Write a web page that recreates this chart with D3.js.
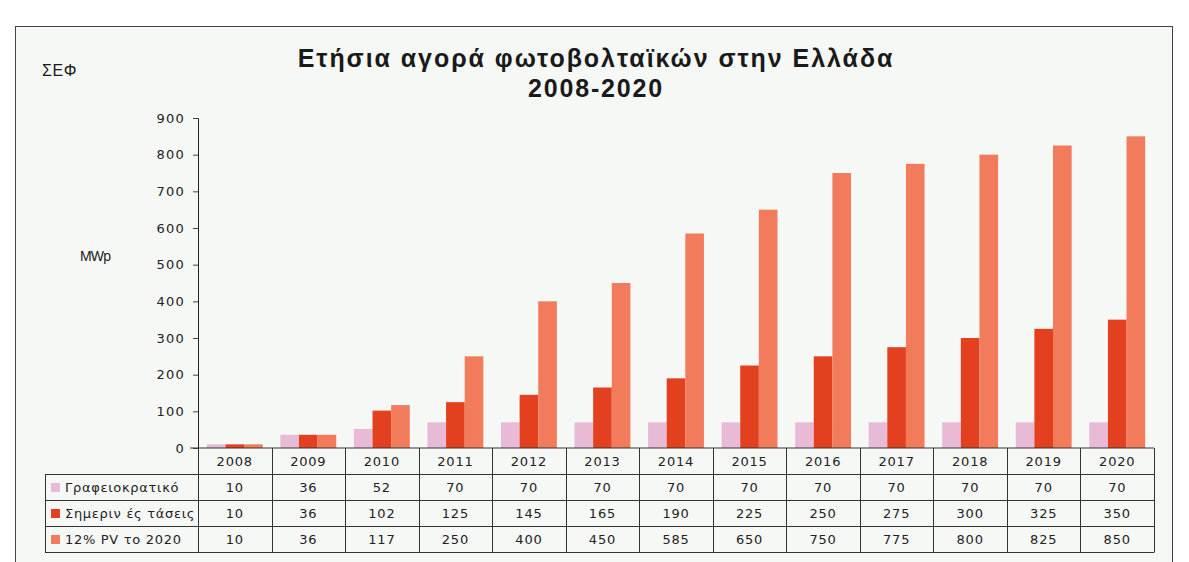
<!DOCTYPE html>
<html>
<head>
<meta charset="utf-8">
<script src="https://cdn.jsdelivr.net/npm/d3@7"></script>
<style>
  html, body { margin: 0; padding: 0; background: #ffffff; }
  svg { display: block; font-family: "DejaVu Sans", "Liberation Sans", Arial, sans-serif; }
</style>
</head>
<body>
<svg id="chart" width="1189" height="562"></svg>
<script>
// Annual PV market in Greece, 2008-2020 (MWp), three scenarios
const years = ["2008","2009","2010","2011","2012","2013","2014","2015","2016","2017","2018","2019","2020"];
const seriesNames = ["Γραφειοκρατικό", "Σημεριν ές τάσεις", "12% PV το 2020"];
const bureaucratic = [10, 36, 52, 70, 70, 70, 70, 70, 70, 70, 70, 70, 70];
const currentTrends = [10, 36, 102, 125, 145, 165, 190, 225, 250, 275, 300, 325, 350];
const pv12 = [10, 36, 117, 250, 400, 450, 585, 650, 750, 775, 800, 825, 850];
const yTicks = [0, 100, 200, 300, 400, 500, 600, 700, 800, 900];
const colors = ["#e8bad6", "#e2401f", "#f27b5b"];

const seriesValues = [bureaucratic, currentTrends, pv12];

const svg = d3.select("#chart");
const bodyFont = "'DejaVu Sans', 'Liberation Sans', sans-serif";
const titleFont = "'Liberation Sans', Arial, sans-serif";

// Panel frame
svg.append("rect")
  .attr("x", 15.5).attr("y", 26.5)
  .attr("width", 1157).attr("height", 545)
  .attr("fill", "#f6f8f6")
  .attr("stroke", "#444").attr("stroke-width", 1);

// Plot geometry
const plotLeft = 198, plotRight = 1154, plotTop = 118, plotBottom = 448;

const x = d3.scaleBand().domain(years).range([plotLeft, plotRight]).paddingInner(0.24).paddingOuter(0.12);
const xGroup = d3.scaleBand().domain(d3.range(3)).range([0, x.bandwidth()]);
const y = d3.scaleLinear().domain([0, 900]).range([plotBottom, plotTop]);

// Titles
svg.append("text").attr("x", 596).attr("y", 67).attr("text-anchor", "middle")
  .attr("font-family", titleFont)
  .attr("font-size", 25).attr("font-weight", "bold").attr("fill", "#1a1a1a")
  .attr("letter-spacing", 1.95)
  .text("Ετήσια αγορά φωτοβολταϊκών στην Ελλάδα");
svg.append("text").attr("x", 596).attr("y", 97).attr("text-anchor", "middle")
  .attr("font-family", titleFont)
  .attr("font-size", 25).attr("font-weight", "bold").attr("fill", "#1a1a1a")
  .attr("letter-spacing", 1.8)
  .text("2008-2020");
svg.append("text").attr("x", 42).attr("y", 76)
  .attr("font-family", titleFont)
  .attr("font-size", 16).attr("letter-spacing", 0.6).attr("fill", "#1a1a1a").text("ΣΕΦ");
svg.append("text").attr("x", 80).attr("y", 261)
  .attr("font-family", titleFont)
  .attr("font-size", 14).attr("fill", "#1a1a1a").attr("letter-spacing", -0.8).text("MWp");

// Bars
const groups = svg.append("g").selectAll("g")
  .data(years).join("g")
  .attr("transform", d => `translate(${x(d)},0)`);

groups.selectAll("rect")
  .data((d, i) => seriesValues.map((vals, s) => ({ s, v: vals[i] })))
  .join("rect")
  .attr("x", d => xGroup(d.s))
  .attr("width", xGroup.bandwidth())
  .attr("y", d => y(d.v))
  .attr("height", d => y(0) - y(d.v))
  .attr("fill", d => colors[d.s]);

// Y axis
const yAxis = d3.axisLeft(y).tickValues(yTicks).tickSize(5).tickPadding(8).tickFormat(d3.format("d"));
const yg = svg.append("g").attr("transform", `translate(${plotLeft},0)`).call(yAxis);
yg.select(".domain").attr("stroke", "#222");
yg.selectAll(".tick line").attr("stroke", "#444");
yg.selectAll(".tick text").attr("font-size", 13).attr("fill", "#222")
  .attr("letter-spacing", 1.2)
  .attr("font-family", bodyFont);

// Data table below the axis
const rowH = 26;
const tableTop = plotBottom;
const labelLeft = 45;
const tableRight = plotRight;
const g = svg.append("g").attr("stroke", "#333").attr("stroke-width", 1);
const step = x.step();
const colEdge = i => plotLeft + i * step;

// horizontal lines
g.append("line").attr("x1", plotLeft - 8).attr("x2", tableRight).attr("y1", tableTop).attr("y2", tableTop);
for (let r = 1; r <= 4; r++) {
  const yy = tableTop + r * rowH + 0.5;
  g.append("line").attr("x1", labelLeft).attr("x2", tableRight).attr("y1", yy).attr("y2", yy);
}
// vertical lines
for (let c = 0; c <= years.length; c++) {
  const xx = Math.round(colEdge(c)) + 0.5;
  g.append("line").attr("x1", xx).attr("x2", xx).attr("y1", tableTop).attr("y2", tableTop + 4 * rowH + 0.5);
}
g.append("line").attr("x1", labelLeft + 0.5).attr("x2", labelLeft + 0.5)
  .attr("y1", tableTop + rowH + 0.5).attr("y2", tableTop + 4 * rowH + 0.5);

// year header
svg.append("g").selectAll("text").data(years).join("text")
  .attr("x", (d, i) => colEdge(i) + step / 2)
  .attr("y", tableTop + rowH / 2 + 5)
  .attr("text-anchor", "middle").attr("font-size", 13).attr("letter-spacing", 0.8).attr("fill", "#222")
  .text(d => d);

// series rows
seriesNames.forEach((name, s) => {
  const rowY = tableTop + (s + 1) * rowH;
  svg.append("rect").attr("x", labelLeft + 6).attr("y", rowY + rowH / 2 - 4)
    .attr("width", 9).attr("height", 9).attr("fill", colors[s]);
  svg.append("text").attr("x", labelLeft + 20).attr("y", rowY + rowH / 2 + 5)
    .attr("font-size", 13).attr("letter-spacing", 0.7).attr("fill", "#222").text(name);
  svg.append("g").selectAll("text").data(seriesValues[s]).join("text")
    .attr("x", (d, i) => colEdge(i) + step / 2)
    .attr("y", rowY + rowH / 2 + 5)
    .attr("text-anchor", "middle").attr("font-size", 13).attr("letter-spacing", 0.8).attr("fill", "#222")
    .text(d => d);
});
</script>
</body>
</html>
